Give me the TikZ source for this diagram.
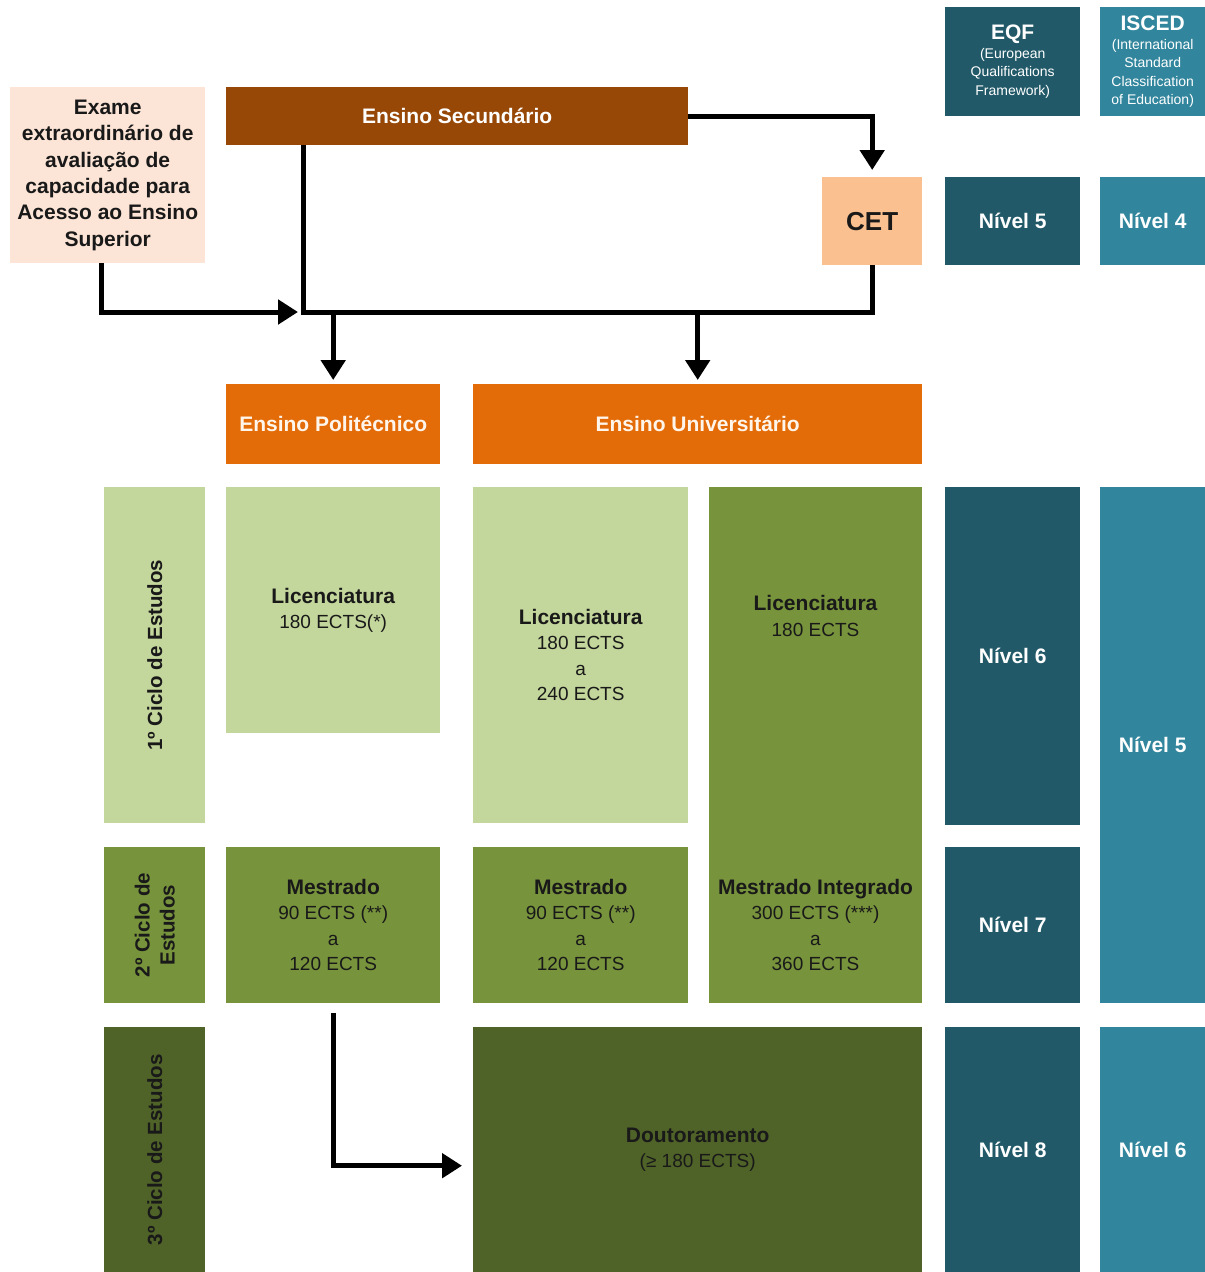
\documentclass[tikz,border=0pt]{standalone}
\usepackage{fontspec}
\setmainfont{Liberation Sans}
\usetikzlibrary{arrows.meta}

\definecolor{secbrown}{HTML}{974706}
\definecolor{ensorange}{HTML}{E36C09}
\definecolor{cetpeach}{HTML}{FAC090}
\definecolor{examepeach}{HTML}{FCE4D6}
\definecolor{eqfteal}{HTML}{215968}
\definecolor{iscedteal}{HTML}{31859C}
\definecolor{greenlight}{HTML}{C3D69B}
\definecolor{greenmid}{HTML}{77933C}
\definecolor{greendark}{HTML}{4F6228}

\newcommand{\boxhead}[1]{{\fontsize{21}{25.5}\selectfont\bfseries #1}}
\newcommand{\tabhead}[1]{{\fontsize{21}{23}\selectfont\bfseries #1}}

\tikzset{
  box/.style={rectangle, inner sep=0pt, anchor=north west, align=center, text=black!90},
  lightbox/.style={box, fill=greenlight},
  midbox/.style={box, fill=greenmid},
  darkbox/.style={box, fill=greendark},
  bigtext/.style={font=\fontsize{21}{26}\selectfont\bfseries},
  eqfbox/.style={box, fill=eqfteal, text=white, bigtext},
  iscedbox/.style={box, fill=iscedteal, text=white, bigtext},
  headsmall/.style={font=\fontsize{14}{18.5}\selectfont},
  orangebox/.style={box, fill=ensorange, text=white!92!orange, bigtext},
  cyclelabel/.style={rotate=90, align=center, text=black!90, font=\fontsize{20.5}{25}\selectfont\bfseries},
  link/.style={line width=5pt},
  flow/.style={line width=5pt, -{Triangle[length=20pt,width=24pt]}},
}

\begin{document}
\begin{tikzpicture}[x=1pt, y=-1pt, font=\fontsize{19}{25.5}\selectfont]
\useasboundingbox (0,0) rectangle (1205,1272);
\fill[white] (0,0) rectangle (1205,1272);

\node[box, fill=examepeach, minimum width=195pt, minimum height=176pt, font=\fontsize{21}{26.4}\selectfont\bfseries] (exame) at (10,87) {Exame\\extraordinário de\\avaliação de\\capacidade para\\Acesso ao Ensino\\Superior};
\node[box, fill=secbrown, text=white, minimum width=462pt, minimum height=58pt, bigtext] (sec) at (226,87) {Ensino Secundário};
\node[box, fill=cetpeach, minimum width=100pt, minimum height=88pt, font=\fontsize{26}{30}\selectfont\bfseries] (cet) at (822,177) {CET};

\node[eqfbox, headsmall, minimum width=135pt, minimum height=109pt] (eqf) at (945,7) {\tabhead{EQF}\\(European\\Qualifications\\Framework)};
\node[iscedbox, headsmall, minimum width=105pt, minimum height=109pt] (isced) at (1100,7) {\tabhead{ISCED}\\(International\\Standard\\Classification\\of Education)};
\node[eqfbox, minimum width=135pt, minimum height=88pt] (eqf5) at (945,177) {Nível 5};
\node[iscedbox, minimum width=105pt, minimum height=88pt] (isc4) at (1100,177) {Nível 4};

\node[orangebox, minimum width=214pt, minimum height=80pt] (poli) at (226,384) {Ensino Politécnico};
\node[orangebox, minimum width=449pt, minimum height=80pt] (uni) at (473,384) {Ensino Universitário};

\node[lightbox, minimum width=101pt, minimum height=336pt] (c1) at (104,487) {};
\node[midbox, minimum width=101pt, minimum height=156pt] (c2) at (104,847) {};
\node[darkbox, minimum width=101pt, minimum height=245pt] (c3) at (104,1027) {};
\node[cyclelabel] (c1txt) at (c1.center) {1º Ciclo de Estudos};
\node[cyclelabel] (c2txt) at (c2.center) {2º Ciclo de\\Estudos};
\node[cyclelabel] (c3txt) at (c3.center) {3º Ciclo de Estudos};

\node[lightbox, minimum width=214pt, minimum height=246pt] (plic) at (226,487) {\boxhead{Licenciatura}\\180 ECTS(*)};
\node[lightbox, minimum width=215pt, minimum height=336pt] (ulic) at (473,487) {\boxhead{Licenciatura}\\180 ECTS\\a\\240 ECTS};
\node[midbox, minimum width=213pt, minimum height=516pt] (integ) at (709,487) {};
\node[align=center, text=black!90] (integlic) at (815.5,616) {\boxhead{Licenciatura}\\180 ECTS};
\node[align=center, text=black!90] (integmi) at (815.5,925) {\boxhead{Mestrado Integrado}\\300 ECTS (***)\\a\\360 ECTS};
\node[midbox, minimum width=214pt, minimum height=156pt] (pmes) at (226,847) {\boxhead{Mestrado}\\90 ECTS (**)\\a\\120 ECTS};
\node[midbox, minimum width=215pt, minimum height=156pt] (umes) at (473,847) {\boxhead{Mestrado}\\90 ECTS (**)\\a\\120 ECTS};
\node[darkbox, minimum width=449pt, minimum height=245pt] (dout) at (473,1027) {\boxhead{Doutoramento}\\(≥ 180 ECTS)};

\node[eqfbox, minimum width=135pt, minimum height=338pt] (eqf6) at (945,487) {Nível 6};
\node[eqfbox, minimum width=135pt, minimum height=156pt] (eqf7) at (945,847) {Nível 7};
\node[eqfbox, minimum width=135pt, minimum height=245pt] (eqf8) at (945,1027) {Nível 8};
\node[iscedbox, minimum width=105pt, minimum height=516pt] (isc5) at (1100,487) {Nível 5};
\node[iscedbox, minimum width=105pt, minimum height=245pt] (isc6) at (1100,1027) {Nível 6};

\coordinate (busL) at (303,312);
\draw[link] (sec.south -| busL) -- (busL) -- (busL -| cet.south) -- (cet.south);
\draw[flow, shorten >=7pt] (sec.east) -| (cet.north);
\draw[flow, shorten >=5pt] ([xshift=-6pt]exame.south) |- (busL);
\draw[flow, shorten >=4pt] (busL -| poli.north) -- (poli.north);
\draw[flow, shorten >=4pt] (busL -| uni.north) -- (uni.north);
\draw[flow, shorten >=11pt] ([yshift=-10pt]pmes.south) |- ([yshift=-16pt]dout.west);
\end{tikzpicture}
\end{document}
